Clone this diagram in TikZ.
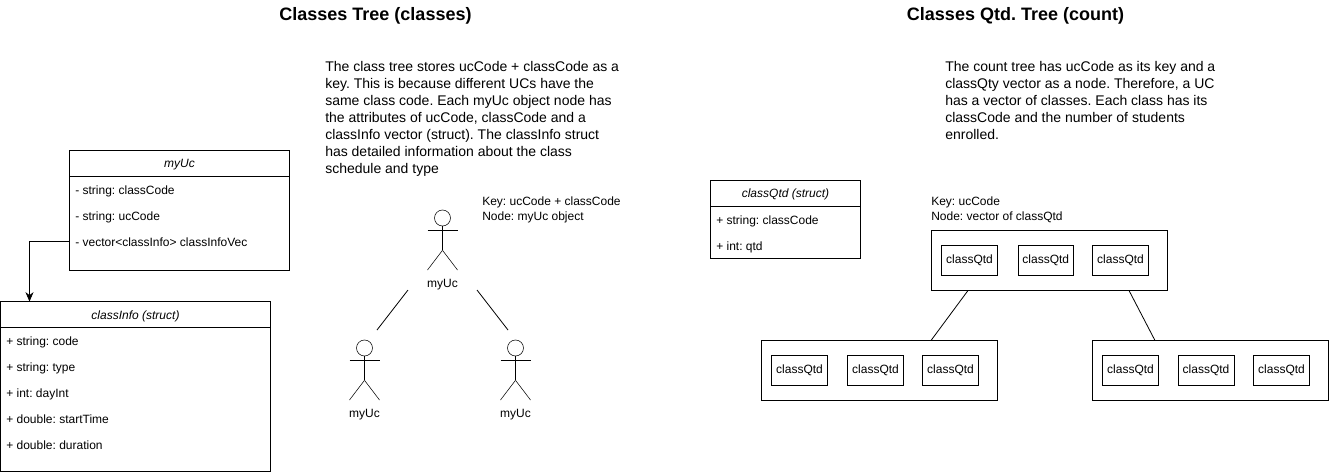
\documentclass[tikz,border=0pt]{standalone}
\usepackage{fontspec}
\setmainfont{Liberation Sans}
\usetikzlibrary{fit,arrows.meta}
\AtBeginDocument{\frenchspacing}
\tikzset{
  x=0.75pt,y=-0.75pt,
  line width=0.75pt,
  box/.style={draw,inner sep=0pt,fit={#1}},
  row/.style={anchor=base west,inner sep=0pt,font=\fontsize{9}{11}\selectfont},
  head/.style={anchor=base,inner sep=0pt,font=\fontsize{9}{11}\selectfont\itshape},
  lbl/.style={anchor=base,inner sep=0pt,font=\fontsize{9}{11}\selectfont},
  title/.style={anchor=base,inner sep=0pt,font=\fontsize{13.5}{16}\selectfont\bfseries},
  para/.style={anchor=north west,inner sep=0pt,align=left,font=\fontsize{10.5}{12.75}\selectfont},
  note/.style={anchor=north west,inner sep=0pt,align=left,font=\fontsize{9}{11}\selectfont},
  link/.style={draw,line width=0.6pt},
  head circle/.style={draw,circle,inner sep=0pt,minimum size=12pt},
}
\newcommand{\actor}[3]{% name, x, y of the head centre
  \node[head circle] (#1h) at (#2,#3) {};
  \draw (#1h.south) -- ++(0,24) coordinate (#1c);
  \draw (#2-15,#3+12.5) -- (#2+15,#3+12.5);
  \draw (#1c) -- (#2-15,#3+52);
  \draw (#1c) -- (#2+15,#3+52);
  \node[lbl] (#1l) at (#2,#3+69) {myUc};
}
\begin{document}
\begin{tikzpicture}
\useasboundingbox (0,0) rectangle (1329,472);

\node[title] (t1) at (375.5,20) {Classes Tree (classes)};
\node[title] (t2) at (1015.5,20) {Classes Qtd. Tree (count)};

\node[para] (p1) at (325,61) {The class tree stores ucCode + classCode as a\\key. This is because different UCs have the\\same class code. Each myUc object node has\\the attributes of ucCode, classCode and a\\classInfo vector (struct). The classInfo struct\\has detailed information about the class\\schedule and type};
\node[para] (p2) at (945,61) {The count tree has ucCode as its key and a\\classQty vector as a node. Therefore, a UC\\has a vector of classes. Each class has its\\classCode and the number of students\\enrolled.};

% myUc class
\node[box={(69.5,150.5) (289.5,270.5)}] (myuc) {};
\coordinate (myucL) at (69.5,176.5);
\draw (myucL) -- (myucL -| myuc.east);
\node[head] (myucT) at (179.5,167.5) {myUc};
\node[row] (m1) at (75,194) {- string: classCode};
\node[row] (m2) at (75,220) {- string: ucCode};
\node[row] (m3) at (75,246) {- vector<classInfo> classInfoVec};

% classInfo struct
\node[box={(0.5,301.5) (270.5,471.5)}] (ci) {};
\coordinate (ciL) at (0.5,327.5);
\draw (ciL) -- (ciL -| ci.east);
\node[head] (ciT) at (135.5,319) {classInfo (struct)};
\node[row] (c1) at (6,345) {+ string: code};
\node[row] (c2) at (6,371) {+ string: type};
\node[row] (c3) at (6,397) {+ int: dayInt};
\node[row] (c4) at (6,423) {+ double: startTime};
\node[row] (c5) at (6,449) {+ double: duration};

\coordinate (arrowStart) at (69.5,241);
\coordinate (arrowEnd) at (29.5,301.5);
\draw[-{Stealth[length=7pt,width=6pt]}] (arrowStart) -| (arrowEnd);

% classQtd struct
\node[box={(710.5,180.5) (860.5,258.5)}] (cq) {};
\coordinate (cqL) at (710.5,206.5);
\draw (cqL) -- (cqL -| cq.east);
\node[head] (cqT) at (785.5,197.5) {classQtd (struct)};
\node[row] (q1) at (716,224) {+ string: classCode};
\node[row] (q2) at (716,250) {+ int: qtd};

% actors tree
\actor{a}{442.5}{218}
\actor{b}{364.5}{348}
\actor{d}{515.5}{348}
\node[note] (n1) at (482,197) {Key: ucCode + classCode\\Node: myUc object};
\coordinate (l1a) at (408,290);
\coordinate (l1b) at (377,330);
\coordinate (l2a) at (477,290);
\coordinate (l2b) at (508,330);
\draw[link] (l1a) -- (l1b);
\draw[link] (l2a) -- (l2b);

% count tree
\node[note] (n2) at (931,197) {Key: ucCode\\Node: vector of classQtd};
\node[box={(931.5,230.5) (1167.5,290.5)}] (top) {};
\node[box={(761.5,340.5) (997.5,400.5)}] (left) {};
\node[box={(1092.5,340.5) (1328.5,400.5)}] (right) {};
\foreach \nm/\xa/\xb/\ya in {
  ta/941.5/997.5/245.5, tb/1018/1073.5/245.5, tc/1092.5/1148.5/245.5,
  la/771.5/827.5/355.5, lb/847.5/903.5/355.5, lc/922.5/978.5/355.5,
  ra/1102.5/1158.5/355.5, rb/1178/1234/355.5, rc/1253.5/1309.5/355.5}{
  \pgfmathsetmacro{\yb}{\ya+30}
  \node[box={(\xa,\ya) (\xb,\yb)}] (\nm) {};
  \node[lbl] (\nm t) at ([yshift=-2.25pt]\nm.center) {classQtd};
}
\coordinate (c1a) at (968,290.5);
\coordinate (c1b) at (931,340.5);
\coordinate (c2a) at (1129,290.5);
\coordinate (c2b) at (1155,340.5);
\draw[link] (c1a) -- (c1b);
\draw[link] (c2a) -- (c2b);
\end{tikzpicture}
\end{document}
